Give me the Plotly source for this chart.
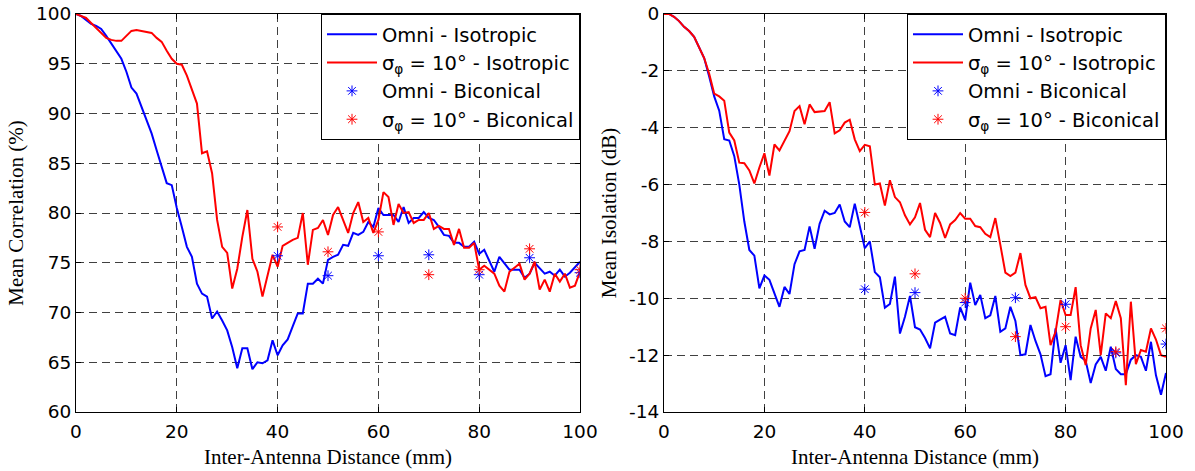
import plotly.graph_objects as go

distance = list(range(0, 101))

corr_omni_iso = [100, 99.8, 99.4, 99.0, 98.8, 98.5, 97.8, 97.0, 96.3, 95.5,
                 94.2, 92.6, 92.0, 90.7, 89.4, 88.0, 86.3, 84.7, 83.0, 82.8,
                 80.5, 78.6, 76.6, 75.6, 72.9, 71.9, 71.6, 69.4, 70.1, 69.2,
                 68.2, 66.5, 64.4, 66.4, 66.4, 64.3, 65.0, 64.9, 65.2, 67.2,
                 65.7, 66.7, 67.3, 68.6, 69.9, 69.9, 72.9, 72.9, 73.4, 72.9,
                 75.3, 75.6, 75.8, 76.8, 76.7, 78.0, 77.8, 78.1, 79.1, 78.6,
                 80.5, 79.8, 79.8, 79.8, 79.1, 80.6, 79.0, 79.5, 79.5, 80.1,
                 79.5, 79.3, 78.6, 77.8, 77.7, 77.0, 77.0, 76.6, 76.6, 77.1,
                 75.9, 76.3, 75.2, 74.1, 75.6, 74.9, 74.3, 74.3, 74.3, 73.5,
                 73.9, 75.0, 74.5, 73.9, 74.1, 73.7, 74.3, 73.6, 74.0, 74.6,
                 75.1]

corr_sig_iso = [100, 99.8, 99.6, 99.1, 98.6, 98.2, 97.6, 97.4, 97.3, 97.3,
                97.8, 98.3, 98.4, 98.3, 98.2, 98.1, 97.6, 97.2, 96.3, 95.5,
                95.0, 94.9, 93.8, 92.3, 91.0, 86.0, 86.2, 84.0, 79.3, 76.6,
                76.0, 72.4, 74.4, 77.6, 80.3, 75.4, 74.1, 71.6, 73.8, 75.8,
                74.6, 76.7, 77.0, 77.3, 77.5, 80.0, 74.8, 78.3, 78.5, 79.3,
                77.8, 79.8, 80.6, 79.3, 78.0, 80.0, 81.1, 79.1, 79.5, 78.0,
                79.3, 82.1, 81.6, 78.8, 80.9, 80.0, 80.1, 79.0, 79.3, 79.3,
                80.0, 78.4, 78.7, 78.4, 78.4, 76.8, 78.4, 76.5, 76.5, 77.0,
                74.3, 74.7, 74.3, 73.9, 72.7, 72.1, 74.1, 74.5, 74.9, 73.3,
                73.9, 75.1, 72.3, 73.3, 72.1, 73.9, 73.1, 73.9, 72.5, 72.7,
                74.1]

iso_omni_iso = [0, 0, -0.1, -0.25, -0.45, -0.6, -0.8, -1.15, -1.55, -2.2,
                -2.9, -3.4, -4.4, -4.45, -5.0, -6.0, -7.3, -8.3, -8.5, -9.65,
                -9.2, -9.35, -9.8, -10.3, -9.6, -9.85, -8.8, -8.35, -8.3, -7.47,
                -8.26, -7.38, -6.92, -7.05, -7.0, -6.7, -7.3, -7.5, -6.67, -7.47,
                -8.24, -8.0, -9.08, -9.26, -10.33, -10.2, -9.24, -11.24, -10.65, -9.92,
                -11.02, -11.1, -11.4, -11.76, -10.86, -10.75, -10.65, -11.24, -11.3, -10.32,
                -10.77, -9.45, -10.24, -9.88, -10.7, -10.6, -9.92, -11.18, -11.06, -10.3,
                -10.8, -12.0, -11.97, -10.94, -11.5, -11.97, -12.74, -12.67, -11.06, -12.27,
                -11.65, -12.88, -11.35, -12.06, -12.2, -12.98, -12.33, -12.06, -12.55, -11.7,
                -12.49, -12.67, -12.67, -12.16, -12.0, -12.06, -12.55, -11.53, -12.71, -13.39,
                -12.63]

iso_sig_iso = [0, 0, -0.1, -0.25, -0.45, -0.6, -0.8, -1.15, -1.55, -2.1,
               -2.8, -2.9, -3.05, -4.17, -4.45, -5.23, -5.25, -5.5, -5.96, -5.4,
               -4.9, -5.68, -4.59, -4.8, -4.43, -4.12, -3.41, -3.24, -3.88, -3.18,
               -3.45, -3.43, -3.41, -3.1, -4.2, -4.09, -3.82, -3.72, -4.41, -4.82,
               -4.6, -4.65, -6.0, -5.96, -6.74, -5.85, -6.44, -6.62, -7.08, -7.4,
               -7.15, -6.65, -7.59, -7.85, -7.0, -7.35, -7.88, -7.4, -7.25, -7.0,
               -7.2, -7.2, -7.46, -7.5, -7.73, -7.85, -7.18, -8.12, -9.1, -9.22,
               -9.1, -8.41, -9.53, -10.0, -9.96, -10.35, -10.3, -11.65, -11.18, -10.06,
               -10.59, -10.59, -9.61, -11.65, -12.35, -11.06, -10.41, -12.0, -10.53, -10.7,
               -10.1, -10.7, -13.06, -10.12, -12.32, -11.82, -11.88, -11.06, -11.45, -12.0,
               -12.06]

bico_distance = [40, 50, 60, 70, 80, 90, 100]
corr_omni_bico = [75.7, 73.7, 75.7, 75.8, 73.8, 75.5, 74.0]
corr_sig_bico = [78.6, 76.1, 78.1, 73.8, 74.3, 76.4, 74.3]
iso_omni_bico = [-9.68, -9.8, -10.15, -9.98, -10.21, -11.92, -11.61]
iso_sig_bico = [-6.98, -9.14, -10.0, -11.35, -11.0, -11.88, -11.06]

x_ticks = [0, 20, 40, 60, 80, 100]
corr_ticks = [60, 65, 70, 75, 80, 85, 90, 95, 100]
iso_ticks = [0, -2, -4, -6, -8, -10, -12, -14]
iso_ticktext = [str(v) for v in iso_ticks]

names = ["Omni - Isotropic", "σ<sub>φ</sub> = 10° - Isotropic",
         "Omni - Biconical", "σ<sub>φ</sub> = 10° - Biconical"]

BLUE = "rgb(0,0,255)"
RED = "rgb(255,0,0)"

fig = go.Figure()

def add_panel(xa, ya, leg, l_omni, l_sig, m_omni, m_sig):
    fig.add_trace(go.Scatter(x=distance, y=l_omni, mode="lines", name=names[0],
                             line=dict(color=BLUE, width=2), xaxis=xa, yaxis=ya, legend=leg))
    fig.add_trace(go.Scatter(x=distance, y=l_sig, mode="lines", name=names[1],
                             line=dict(color=RED, width=2), xaxis=xa, yaxis=ya, legend=leg))
    fig.add_trace(go.Scatter(x=bico_distance, y=m_omni, mode="markers", name=names[2],
                             marker=dict(symbol="asterisk-open", size=9, color=BLUE,
                                         line=dict(color=BLUE, width=1)),
                             xaxis=xa, yaxis=ya, legend=leg))
    fig.add_trace(go.Scatter(x=bico_distance, y=m_sig, mode="markers", name=names[3],
                             marker=dict(symbol="asterisk-open", size=9, color=RED,
                                         line=dict(color=RED, width=1)),
                             xaxis=xa, yaxis=ya, legend=leg))

add_panel("x", "y", "legend", corr_omni_iso, corr_sig_iso, corr_omni_bico, corr_sig_bico)
add_panel("x2", "y2", "legend2", iso_omni_iso, iso_sig_iso, iso_omni_bico, iso_sig_bico)

W, H = 1195, 471
ml, mr, mt, mb = 76, 29, 14, 59
pw = W - ml - mr
d1 = [0, (580 - 76) / pw]
d2 = [(664 - 76) / pw, 1]

tick_font = dict(family="DejaVu Sans, Arial, sans-serif", size=18.5, color="black")
title_font = dict(family="Liberation Serif, Times New Roman, serif", size=21, color="black")
legend_font = dict(family="DejaVu Sans, Arial, sans-serif", size=19.5, color="black")

axis_common = dict(showline=True, linecolor="black", linewidth=1, mirror="ticks",
                   ticks="inside", ticklen=5, tickcolor="black", automargin=False,
                   showgrid=True, gridcolor="rgba(0,0,0,0.75)", griddash="8px,5px", gridwidth=1,
                   zeroline=False, tickfont=tick_font)

fig.update_layout(
    width=W, height=H,
    margin=dict(l=ml, r=mr, t=mt, b=mb),
    paper_bgcolor="white", plot_bgcolor="white",
    xaxis=dict(domain=d1, range=[0, 100], tickvals=x_ticks, anchor="y", ticklabelstandoff=3,
               title=dict(text="Inter-Antenna Distance (mm)", font=title_font, standoff=8),
               **axis_common),
    yaxis=dict(range=[60, 100], tickvals=corr_ticks, anchor="x",
               title=dict(text="Mean Correlation (%)", font=title_font, standoff=6),
               **axis_common),
    xaxis2=dict(domain=d2, range=[0, 100], tickvals=x_ticks, anchor="y2", ticklabelstandoff=3,
                title=dict(text="Inter-Antenna Distance (mm)", font=title_font, standoff=8),
                **axis_common),
    yaxis2=dict(range=[-14, 0], tickvals=iso_ticks, ticktext=iso_ticktext, anchor="x2",
                title=dict(text="Mean Isolation (dB)", font=title_font, standoff=6),
                **axis_common),
    legend=dict(x=d1[1], y=1, xanchor="right", yanchor="top",
                bgcolor="white", bordercolor="black", borderwidth=1,
                font=legend_font, tracegroupgap=0, itemwidth=50),
    legend2=dict(x=1, y=1, xanchor="right", yanchor="top",
                 bgcolor="white", bordercolor="black", borderwidth=1,
                 font=legend_font, tracegroupgap=0, itemwidth=50),
    showlegend=True,
)

fig.write_html("out.html")
